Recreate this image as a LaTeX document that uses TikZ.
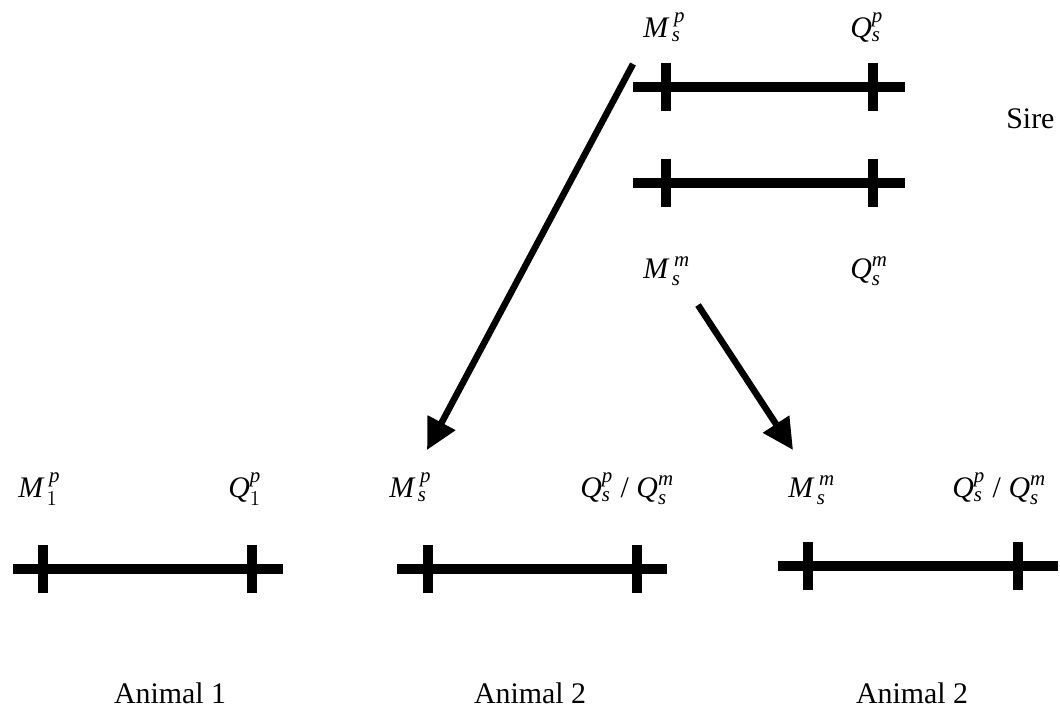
\documentclass[tikz,border=0pt]{standalone}
\usepackage{amsmath}
\usepackage{fontspec}
\setmainfont{Liberation Serif}
\usepackage{tikz}
\usetikzlibrary{arrows.meta}

\newcommand{\mk}[3]{$\textit{#1}_{#2}^{#3}$}

\begin{document}
\begin{tikzpicture}[x=0.02cm,y=-0.02cm,>={Triangle[length=0.62cm,width=0.6cm]},
  bar/.style={line width=0.2cm},
  lbl/.style={anchor=base west,inner sep=0pt,font=\fontsize{17}{20}\selectfont}]
\useasboundingbox (0,0) rectangle (1060,711);
% chromosomes: name/left/right/tick1/tick2/y
\foreach \nm/\xa/\xb/\ta/\tb/\y in {sirep/633/905/666/873/87,
                                    sirem/633/905/666/873/183,
                                    anone/13/283/43/252/569,
                                    antwo/397/667/428/637/569,
                                    anthree/778/1058/808/1018/566} {
  \draw[bar] (\xa,\y) -- (\xb,\y);
  \draw[bar] (\ta,\y-24) -- (\ta,\y+24);
  \draw[bar] (\tb,\y-24) -- (\tb,\y+24);
}
% sire
\node[lbl] (msp) at (643,37) {\mk{M}{\,\textit{s}}{\;\textit{p}}};
\node[lbl] (qsp) at (850,37) {\mk{Q}{\textit{s}}{\textit{p}}};
\node[lbl] (msm) at (643,278) {\mk{M}{\,\textit{s}}{\;\textit{m}}};
\node[lbl] (qsm) at (850,278) {\mk{Q}{\textit{s}}{\textit{m}}};
\node[lbl] (sire) at (1006,128) {Sire};
% offspring
\node[lbl] (m1p) at (18,497) {\mk{M}{\,1}{\;\textit{p}}};
\node[lbl] (q1p) at (228,497) {\mk{Q}{1}{\textit{p}}};
\node[lbl] (m2p) at (389,497) {\mk{M}{\,\textit{s}}{\;\textit{p}}};
\node[lbl] (q2p) at (580,497) {\mk{Q}{\textit{s}}{\textit{p}} / \mk{Q}{\textit{s}}{\textit{m}}};
\node[lbl] (m3m) at (788,497) {\mk{M}{\,\textit{s}}{\;\textit{m}}};
\node[lbl] (q3m) at (952,497) {\mk{Q}{\textit{s}}{\textit{p}} / \mk{Q}{\textit{s}}{\textit{m}}};
\node[lbl,anchor=base] (an1) at (170,703) {Animal 1};
\node[lbl,anchor=base] (an2) at (530,703) {Animal 2};
\node[lbl,anchor=base] (an3) at (912,703) {Animal 2};
% transmission
\coordinate (pfrom) at (633,64);
\coordinate (pto) at (427,450);
\coordinate (mfrom) at (698,305);
\coordinate (mto) at (793,450);
\draw[->,line width=0.13cm] (pfrom) -- (pto);
\draw[->,line width=0.13cm] (mfrom) -- (mto);
\end{tikzpicture}
\end{document}
